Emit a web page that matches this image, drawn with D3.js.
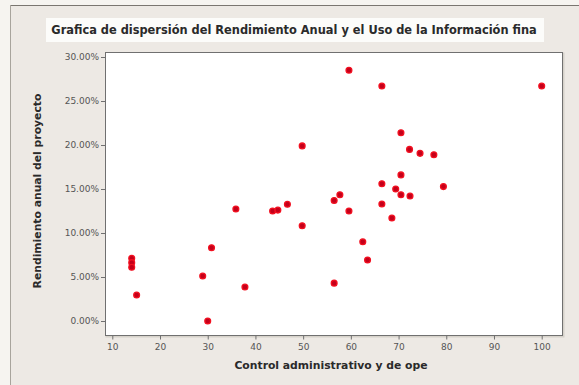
<!DOCTYPE html>
<html><head><meta charset="utf-8">
<script src="https://cdn.jsdelivr.net/npm/d3@7"></script>
<style>html,body{margin:0;padding:0;background:#fff;}svg{display:block;}</style>
</head><body>
<script>
const xValues = [14.07,14.07,14.07,15.1,28.95,30.0,30.8,35.9,37.8,43.6,44.7,46.7,49.8,49.8,59.6,66.5,100,70.5,72.3,74.5,77.4,70.5,66.5,69.4,70.5,72.4,79.4,57.7,56.5,66.5,59.6,68.6,62.5,63.5,56.5];
const yValues = [7.12,6.63,6.10,2.95,5.11,0.0,8.33,12.73,3.86,12.5,12.6,13.26,19.9,10.83,28.5,26.7,26.7,21.4,19.5,19.05,18.9,16.6,15.6,15.0,14.35,14.2,15.27,14.35,13.7,13.3,12.5,11.7,9.0,6.93,4.3];
const xTicks = [10,20,30,40,50,60,70,80,90,100];
const yTicks = [0,5,10,15,20,25,30];
const titleText = "Grafica de dispersión del Rendimiento Anual y el Uso de la Información fina";
const xTitle = "Control administrativo y de ope";
const yTitle = "Rendimiento anual del proyecto";

const W = 579, H = 385;
const svg = d3.select("body").append("svg").attr("width", W).attr("height", H);
svg.append("rect").attr("width", W).attr("height", H).attr("fill", "#f6f4f0");
svg.append("rect").attr("x", 10).attr("y", 5).attr("width", W - 10).attr("height", H - 5).attr("fill", "#ede9e4");
svg.append("line").attr("x1", 10).attr("x2", W).attr("y1", 5.5).attr("y2", 5.5).attr("stroke", "#7a7670");
svg.append("line").attr("x1", 10.5).attr("x2", 10.5).attr("y1", 5).attr("y2", H).attr("stroke", "#a8a49c");
svg.append("rect").attr("x", 46).attr("y", 18).attr("width", 498).attr("height", 24).attr("fill", "#fcfcfa");
svg.append("text").attr("x", 294).attr("y", 34).attr("text-anchor", "middle")
  .attr("font-family", "DejaVu Sans").attr("font-weight", "bold").attr("font-size", 11.4)
  .attr("fill", "#2a2a2a").text(titleText);

const pl = 105, pr = 562, pt = 52, pb = 335;
const x = d3.scaleLinear().domain([10, 100]).range([112.3, 541.7]);
const y = d3.scaleLinear().domain([0, 30]).range([321, 57]);

svg.append("rect").attr("x", pl + 1.5).attr("y", pt + 1.5).attr("width", pr - pl).attr("height", pb - pt)
  .attr("fill", "none").attr("stroke", "#d6d2ca").attr("stroke-width", 2);
svg.append("rect").attr("x", pl + 0.5).attr("y", pt + 0.5).attr("width", pr - pl).attr("height", pb - pt)
  .attr("fill", "#ffffff").attr("stroke", "#707070");

const fmt = d => d.toFixed(2) + "%";
const yAxis = svg.append("g").attr("transform", `translate(${pl},0)`)
  .call(d3.axisLeft(y).tickValues(yTicks).tickFormat(fmt).tickSize(4).tickPadding(2));
const xAxis = svg.append("g").attr("transform", `translate(0,${pb + 0.5})`)
  .call(d3.axisBottom(x).tickValues(xTicks).tickSize(4).tickPadding(4));
[yAxis, xAxis].forEach(a => {
  a.select(".domain").remove();
  a.selectAll("line").attr("stroke", "#707070");
  a.selectAll("text").attr("font-family", "DejaVu Sans").attr("font-size", 9).attr("fill", "#555");
});

svg.append("text").attr("x", 331).attr("y", 369).attr("text-anchor", "middle")
  .attr("font-family", "DejaVu Sans").attr("font-weight", "bold").attr("font-size", 10.8).attr("fill", "#2a2a2a").text(xTitle);
svg.append("text").attr("transform", "translate(41,191) rotate(-90)").attr("text-anchor", "middle")
  .attr("font-family", "DejaVu Sans").attr("font-weight", "bold").attr("font-size", 10.8).attr("fill", "#2a2a2a").text(yTitle);

svg.append("g").selectAll("circle").data(xValues.map((v, i) => [v, yValues[i]])).join("circle")
  .attr("cx", d => x(d[0])).attr("cy", d => y(d[1])).attr("r", 2.9)
  .attr("fill", "#c4001a").attr("stroke", "#f21020").attr("stroke-width", 1.3);
</script>
</body></html>
